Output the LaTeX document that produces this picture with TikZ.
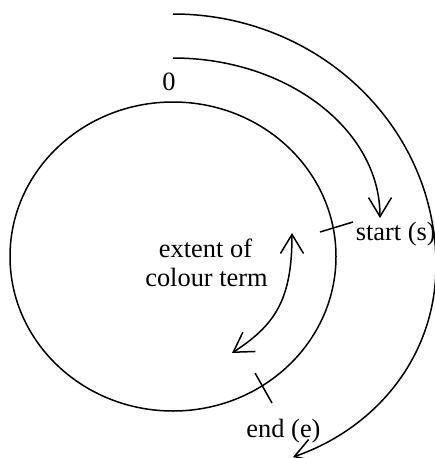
\documentclass[tikz,border=0pt]{standalone}
\usepackage{fontspec}
\setmainfont{Liberation Serif}
\newfontfamily\lserif{Liberation Serif}
\usetikzlibrary{arrows.meta}
\begin{document}
\begin{tikzpicture}[x=1pt,y=-1pt,line width=1.5pt,
  lbl/.style={font=\lserif\fontsize{26.4}{29}\selectfont,inner sep=0pt},
  barbend/.style={-{Straight Barb[length=19pt,width=23pt]}},
  barbboth/.style={{Straight Barb[length=19pt,width=23pt]}-{Straight Barb[length=19pt,width=23pt]}}]
\useasboundingbox (0,0) rectangle (435,458);
\clip (0,0) rectangle (435,458);
% circle
\coordinate (cc) at (173,256.5);
\draw (cc) ellipse [x radius=163pt,y radius=154.5pt];
% labels
\node[lbl,anchor=base] (zero) at (169,90) {0};
\node[lbl,anchor=base] (ext1) at (205.5,257) {extent of};
\node[lbl,anchor=base] (ext2) at (206.5,286) {colour term};
\node[lbl,anchor=base west] (st) at (355,240) {start (s)};
\node[lbl,anchor=base] (en) at (283.5,437) {end (e)};
% ticks
\coordinate (s1) at (320,232);
\coordinate (s2) at (353,222);
\draw (s1) -- (s2);
\coordinate (e1) at (255,373);
\coordinate (e2) at (272,403);
\draw (e1) -- (e2);
% inner arrow
\coordinate (i0) at (173,58);
\coordinate (i1) at (380,218);
\draw[barbend] (i0) .. controls (287.3,58) and (380,129.7) .. (i1);
% outer arrow
\coordinate (o0) at (173,14);
\coordinate (om) at (436,265);
\coordinate (o1) at (293,457);
\draw[barbend] (o0) .. controls (318,14) and (436,126) .. (om)
  .. controls (436,360) and (372,430) .. (o1);
% extent arrow
\coordinate (x0) at (292,233);
\coordinate (x1) at (232,353);
\draw[barbboth] (x0) .. controls (292,300) and (275,325) .. (x1);
\end{tikzpicture}
\end{document}
